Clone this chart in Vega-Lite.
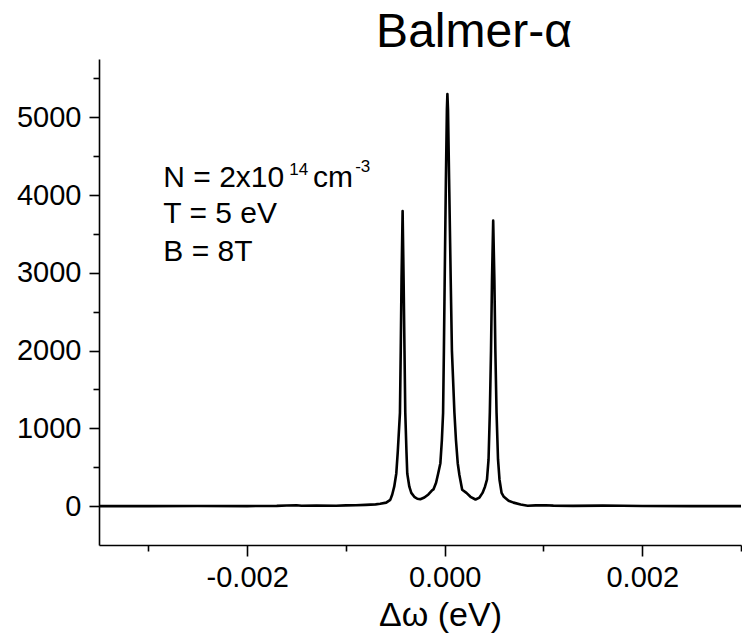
{
  "$schema": "https://vega.github.io/schema/vega-lite/v6.json",
  "width": 642,
  "height": 486,
  "autosize": {"type": "none"},
  "padding": {"left": 99, "top": 59, "right": 1, "bottom": 88},
  "background": "white",
  "config": {
    "view": {"stroke": null},
    "font": "Liberation Sans",
    "axis": {"grid": false, "domainColor": "black", "tickColor": "black", "labelColor": "black", "titleColor": "black", "domainWidth": 1.6, "tickWidth": 1.6, "labelFont": "Liberation Sans", "titleFont": "Liberation Sans", "titleFontWeight": "normal"}
  },
  "title": {"text": "Balmer-α", "fontSize": 48, "font": "Liberation Sans", "fontWeight": "normal", "color": "black", "anchor": "middle", "frame": "group", "offset": 2, "dx": 54},
  "datasets": {
    "spectrum": [
      {"x": -0.0035, "y": 0}, {"x": -0.003, "y": 0}, {"x": -0.0025, "y": 2}, {"x": -0.002, "y": 0},
      {"x": -0.0017, "y": 3}, {"x": -0.0016, "y": 8}, {"x": -0.0015, "y": 12}, {"x": -0.00145, "y": 4},
      {"x": -0.0013, "y": 6}, {"x": -0.0011, "y": 5}, {"x": -0.001, "y": 9}, {"x": -0.0009, "y": 12},
      {"x": -0.0008, "y": 16}, {"x": -0.0007, "y": 22},
      {"x": -0.000653, "y": 30}, {"x": -0.000592, "y": 45}, {"x": -0.000551, "y": 80},
      {"x": -0.000531, "y": 150}, {"x": -0.000511, "y": 250}, {"x": -0.00049, "y": 420},
      {"x": -0.000475, "y": 700}, {"x": -0.000453, "y": 1200}, {"x": -0.000445, "y": 2000},
      {"x": -0.000437, "y": 2910}, {"x": -0.000426, "y": 3795}, {"x": -0.000416, "y": 2910},
      {"x": -0.000407, "y": 2000}, {"x": -0.000399, "y": 1200}, {"x": -0.000387, "y": 700},
      {"x": -0.000379, "y": 420}, {"x": -0.000358, "y": 250}, {"x": -0.000338, "y": 170},
      {"x": -0.000308, "y": 120}, {"x": -0.000277, "y": 95}, {"x": -0.000247, "y": 88},
      {"x": -0.000206, "y": 110}, {"x": -0.000165, "y": 150}, {"x": -0.00013, "y": 200},
      {"x": -0.000114, "y": 215}, {"x": -0.0000873, "y": 300}, {"x": -0.000066, "y": 420},
      {"x": -0.0000437, "y": 552}, {"x": -0.0000284, "y": 850}, {"x": -0.0000162, "y": 1200},
      {"x": -0.0000081, "y": 2000}, {"x": 0, "y": 2910}, {"x": 0.0000122, "y": 4200},
      {"x": 0.0000223, "y": 5100}, {"x": 0.0000274, "y": 5300}, {"x": 0.0000335, "y": 5100},
      {"x": 0.0000447, "y": 4200}, {"x": 0.0000609, "y": 2910}, {"x": 0.0000731, "y": 2000},
      {"x": 0.0000985, "y": 1200}, {"x": 0.000114, "y": 850}, {"x": 0.000132, "y": 552},
      {"x": 0.000149, "y": 400}, {"x": 0.000177, "y": 210}, {"x": 0.00022, "y": 170},
      {"x": 0.000261, "y": 120}, {"x": 0.000312, "y": 85}, {"x": 0.000352, "y": 110},
      {"x": 0.000383, "y": 170}, {"x": 0.000408, "y": 250}, {"x": 0.000428, "y": 340},
      {"x": 0.000444, "y": 600}, {"x": 0.000457, "y": 1200}, {"x": 0.000469, "y": 2000},
      {"x": 0.000479, "y": 2910}, {"x": 0.000491, "y": 3671}, {"x": 0.000503, "y": 2910},
      {"x": 0.000513, "y": 2000}, {"x": 0.000525, "y": 1200}, {"x": 0.00054, "y": 600},
      {"x": 0.000555, "y": 340}, {"x": 0.000576, "y": 170}, {"x": 0.000596, "y": 125},
      {"x": 0.000647, "y": 70}, {"x": 0.000697, "y": 45}, {"x": 0.000769, "y": 20},
      {"x": 0.00084, "y": 5}, {"x": 0.000921, "y": 10}, {"x": 0.001022, "y": 12},
      {"x": 0.0011, "y": 6}, {"x": 0.0013, "y": 3}, {"x": 0.0016, "y": 7}, {"x": 0.0018, "y": 4},
      {"x": 0.002, "y": 2}, {"x": 0.0025, "y": 0}, {"x": 0.003, "y": 0}
    ],
    "labels": [
      {"x": -0.002849, "y": 4107, "t": "N = 2x10"},
      {"x": -0.001334, "y": 4107, "t": "cm"},
      {"x": -0.002849, "y": 3637, "t": "T = 5 eV"},
      {"x": -0.002849, "y": 3152, "t": "B = 8T"}
    ],
    "sups": [
      {"x": -0.001574, "y": 4258, "t": "14"},
      {"x": -0.000906, "y": 4296, "t": "-3"}
    ]
  },
  "layer": [
    {
      "data": {"name": "spectrum"},
      "mark": {"type": "line", "color": "black", "strokeWidth": 2.6, "strokeJoin": "round", "clip": true},
      "encoding": {
        "x": {"field": "x", "type": "quantitative", "scale": {"domain": [-0.0035, 0.003], "nice": false, "zero": false},
          "axis": {"orient": "bottom", "values": [-0.002, 0, 0.002], "labelExpr": "replace(format(datum.value, '.3f'), '\u2212', '-')", "tickSize": 11, "labelPadding": 7, "labelFontSize": 29, "labelFlush": false, "title": "Δω (eV)", "titleFontSize": 34, "titleX": 341, "titleY": 80, "titleBaseline": "alphabetic", "titleAnchor": null, "titleAlign": "center"}},
        "y": {"field": "y", "type": "quantitative", "scale": {"domain": [-500, 5750], "nice": false, "zero": false},
          "axis": {"orient": "left", "values": [0, 1000, 2000, 3000, 4000, 5000], "format": "d", "tickSize": 10, "labelPadding": 8, "labelFontSize": 29, "labelFlush": false, "title": null}}
      }
    },
    {
      "data": {"name": "labels"},
      "mark": {"type": "text", "align": "left", "baseline": "alphabetic", "fontSize": 30, "color": "black", "font": "Liberation Sans"},
      "encoding": {
        "x": {"field": "x", "type": "quantitative",
          "axis": {"orient": "bottom", "values": [-0.003, -0.001, 0.001, 0.003], "labels": false, "domain": false, "tickSize": 6, "title": null}},
        "y": {"field": "y", "type": "quantitative",
          "axis": {"orient": "left", "values": [500, 1500, 2500, 3500, 4500, 5500], "labels": false, "domain": false, "tickSize": 6, "title": null}},
        "text": {"field": "t"}
      }
    },
    {
      "data": {"name": "sups"},
      "mark": {"type": "text", "align": "left", "baseline": "alphabetic", "fontSize": 17, "color": "black", "font": "Liberation Sans"},
      "encoding": {
        "x": {"field": "x", "type": "quantitative", "axis": null},
        "y": {"field": "y", "type": "quantitative", "axis": null},
        "text": {"field": "t"}
      }
    }
  ],
  "resolve": {"axis": {"x": "independent", "y": "independent"}}
}
